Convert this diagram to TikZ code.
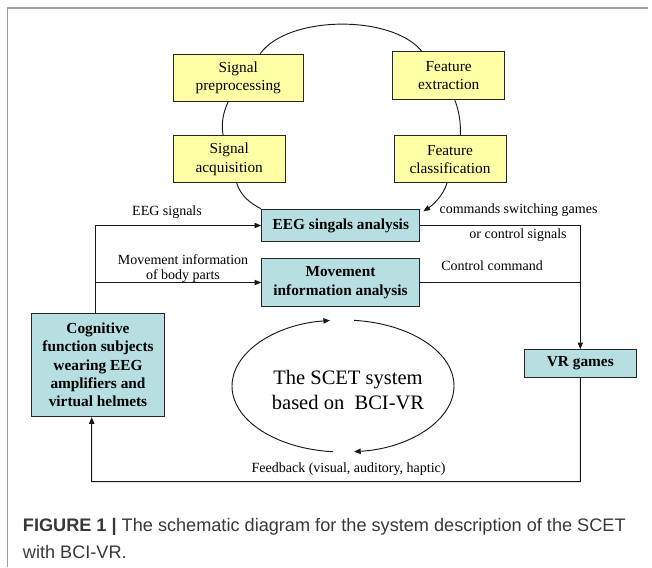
\documentclass[tikz,border=0pt]{standalone}
\usepackage{fontspec}
\setmainfont{Liberation Serif}
\newfontfamily\capfont{Liberation Sans}
\usetikzlibrary{arrows.meta,calc}
\definecolor{boxyellow}{RGB}{255,255,166}
\definecolor{boxteal}{RGB}{183,222,224}
\begin{document}
\begin{tikzpicture}[x=0.75pt,y=-0.75pt,
  ybox/.style={draw=black!85, fill=boxyellow, line width=0.75pt, align=center, inner sep=0pt,
    font=\fontsize{11.5}{13.7}\selectfont},
  tbox/.style={draw=black!85, fill=boxteal, line width=0.75pt, align=center, inner sep=0pt,
    font=\fontsize{11.5}{13.7}\selectfont\bfseries},
  lbl/.style={inner sep=0pt, align=center, font=\fontsize{10.5}{11.25}\selectfont},
  conn/.style={line width=0.7pt, draw=black!90},
  arr/.style={conn, -{Triangle[length=5pt,width=4pt]}}]
\useasboundingbox (0,0) rectangle (652,567);
% frame
\draw[gray!75, line width=1.2pt] (7.3,567) -- (7.3,8) -- (648,8);
% pipeline boxes
\node[ybox, minimum width=97.5pt, minimum height=35pt] (prep) at (238.3,77.7) {Signal\\preprocessing};
\node[ybox, minimum width=84pt, minimum height=35.7pt] (ext) at (448.7,75.5) {Feature\\extraction};
\node[ybox, minimum width=83.8pt, minimum height=35pt] (acq) at (229.2,159.3) {Signal\\acquisition};
\node[ybox, minimum width=84pt, minimum height=35pt] (cls) at (450,159.3) {Feature\\classification};
% teal boxes
\node[tbox, minimum width=118.7pt, minimum height=24.3pt] (eeg) at (340.8,225.5) {EEG singals analysis};
\node[tbox, minimum width=118.2pt, minimum height=36.3pt] (mov) at (340.5,282.5) {Movement\\information analysis};
\node[tbox, minimum width=99.5pt, minimum height=77.5pt] (cog) at (98,365) {Cognitive\\function subjects\\wearing EEG\\amplifiers and\\virtual helmets};
\node[tbox, minimum width=84pt, minimum height=20.7pt] (vr) at (580.3,363.5) {VR games};
% pipeline arcs
\draw[conn] ($(prep.north)+(21.7,0)$) .. controls +(28,-39) and +(-29.7,-36.7) .. ($(ext.north)+(-27,0)$);
\draw[conn] ($(prep.south)+(-10,0)$) .. controls +(-5.3,11) and +(-2.3,-11) .. ($(acq.north)+(-6,0)$);
\draw[conn] ($(ext.south)+(6,0)$) .. controls +(4.3,10.7) and +(0.7,-12) .. ($(cls.north)+(10.3,0)$);
\draw[conn] ($(acq.south)+(7.5,0)$) .. controls +(4,13) and +(-10,-5) .. (eeg.north west);
\draw[arr] ($(cls.south)+(-3,0)$) .. controls +(-4,13) and +(9,-6) .. ($(eeg.north east)+(3,2.5)$);
% main connectors
\draw[arr] ($(cog.north)+(-2.3,0)$) |- (eeg.west);
\draw[arr] ($(cog.north |- mov.west)+(-2.3,0)$) -- (mov.west);
\draw[arr] (eeg.east) -| (vr.north);
\draw[conn] (mov.east) -- (mov.east -| vr.north);
\coordinate (fb) at (91.7,481.7);
\draw[arr] (vr.south) |- (fb) -- ($(cog.south)+(-6.3,0)$);
% labels
\node[lbl] (lEEG) at (167,212) {EEG signals};
\node[lbl] (lMov) at (183,269) {Movement information\\of body parts};
\node[lbl] (lCmd) at (518.5,210) {commands switching games};
\node[lbl] (lOr) at (518,235) {or control signals};
\node[lbl] (lCtl) at (492,265.7) {Control command};
\node[lbl] (lFb) at (348.6,469) {Feedback (visual, auditory, haptic)};
% SCET cycle
\coordinate (ec) at (343,386);
\node[align=center, inner sep=0pt, font=\fontsize{15.4}{18.5}\selectfont] (scet) at (348,390) {The SCET system\\based on\hspace{0.5em}BCI-VR};
\draw[arr] ([shift={(95.3:111 and 66)}]ec) arc[start angle=95.3, end angle=263.3, x radius=111, y radius=66];
\draw[arr] ([shift={(275.7:111 and 66)}]ec) arc[start angle=275.7, end angle=444.3, x radius=111, y radius=66];
% caption
\node[anchor=base west, inner sep=0pt, text=black!78, font=\capfont\fontsize{13.6}{16}\selectfont] (cap1) at (22.7,531.5) {\textbf{FIGURE 1 |} The schematic diagram for the system description of the SCET};
\node[anchor=base west, inner sep=0pt, text=black!78, font=\capfont\fontsize{13.6}{16}\selectfont] (cap2) at (22.7,558.2) {with BCI-VR.};
\end{tikzpicture}
\end{document}
